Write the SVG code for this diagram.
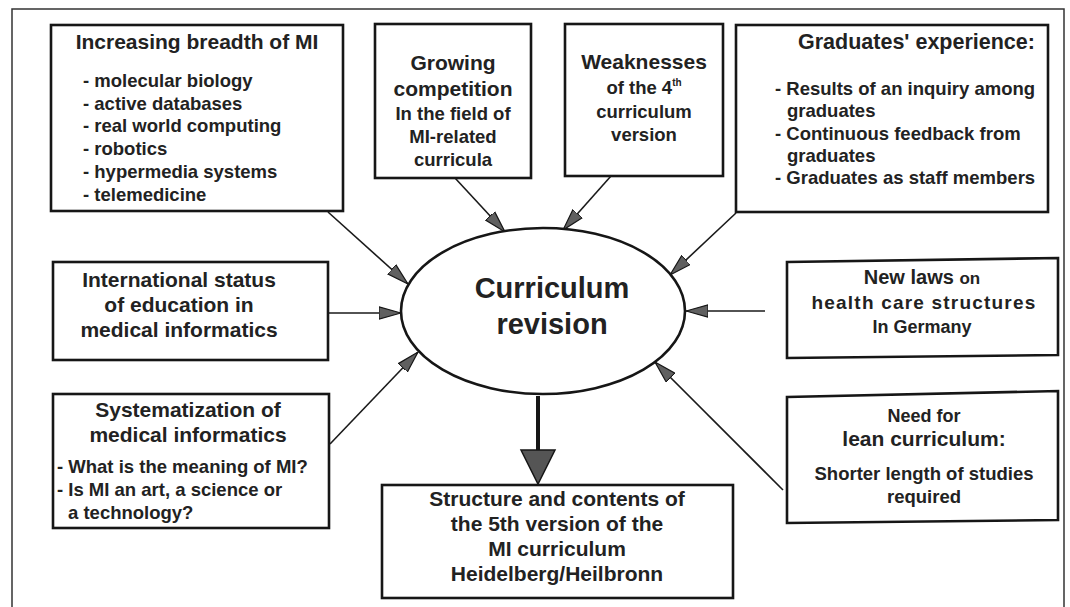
<svg xmlns="http://www.w3.org/2000/svg" width="1070" height="607" viewBox="0 0 1070 607">
<style>
.t{font-family:"Liberation Sans",Arial,Helvetica,sans-serif;font-weight:bold;fill:#222}
.c{text-anchor:middle}
.box{fill:#fff;stroke:#161616;stroke-width:2.6;stroke-linejoin:miter}
.conn{stroke:#1a1a1a;stroke-width:1.6;fill:none;marker-end:url(#ah)}
.frame{fill:none;stroke:#333;stroke-width:1.5}
</style>
<defs>
<marker id="ah" viewBox="0 0 22 14" refX="22" refY="7" markerWidth="22" markerHeight="14" orient="auto" markerUnits="userSpaceOnUse">
<path d="M0,0.8 L22,7 L0,13.2 Z" fill="#606060" stroke="#161616" stroke-width="1.2"/>
</marker>
</defs>
<rect width="1070" height="607" fill="#fff"/>
<path class="frame" d="M12,607 L12,9 L1064,9 L1064,607"/>

<g id="connectors">
<line class="conn" x1="328" y1="212" x2="408" y2="284"/>
<line class="conn" x1="455" y1="178" x2="505" y2="232"/>
<line class="conn" x1="611" y1="176" x2="563" y2="230"/>
<line class="conn" x1="736" y1="213" x2="670" y2="275"/>
<line class="conn" x1="310" y1="313" x2="401" y2="313"/>
<line class="conn" x1="765" y1="311" x2="686" y2="311"/>
<line class="conn" x1="330" y1="444" x2="418" y2="352"/>
<line class="conn" x1="783" y1="490" x2="655" y2="362"/>
<line x1="538" y1="396" x2="538" y2="452" stroke="#161616" stroke-width="4"/>
<path d="M521,450 L555,450 L538,484 Z" fill="#555" stroke="#161616" stroke-width="1.5"/>
</g>

<g id="center">
<ellipse cx="543" cy="311" rx="142" ry="83" fill="#fff" stroke="#161616" stroke-width="2.6"/>
<text class="t c" x="552" y="298" font-size="29">Curriculum</text>
<text class="t c" x="552" y="334" font-size="29">revision</text>
</g>

<g id="breadth">
<rect class="box" x="51" y="25" width="292" height="186"/>
<text class="t c" x="197" y="49" font-size="21">Increasing breadth of MI</text>
<text class="t" x="83" y="87" font-size="18.5">-  molecular biology</text>
<text class="t" x="83" y="109.7" font-size="18.5">-  active databases</text>
<text class="t" x="83" y="132.4" font-size="18.5">-  real world computing</text>
<text class="t" x="83" y="155.1" font-size="18.5">-  robotics</text>
<text class="t" x="83" y="177.8" font-size="18.5">-  hypermedia systems</text>
<text class="t" x="83" y="200.5" font-size="18.5">-  telemedicine</text>
</g>

<g id="competition">
<rect class="box" x="375" y="24" width="156" height="154"/>
<text class="t c" x="453" y="70" font-size="21">Growing</text>
<text class="t c" x="453" y="96" font-size="21">competition</text>
<text class="t c" x="453" y="120" font-size="18.5">In the field of</text>
<text class="t c" x="453" y="143" font-size="18.5">MI-related</text>
<text class="t c" x="453" y="166" font-size="18.5">curricula</text>
</g>

<g id="weaknesses">
<rect class="box" x="565" y="24" width="158" height="152"/>
<text class="t c" x="644" y="69" font-size="21">Weaknesses</text>
<text class="t c" x="644" y="94" font-size="18.5">of the 4<tspan font-size="10" dy="-8">th</tspan></text>
<text class="t c" x="644" y="118" font-size="18.5">curriculum</text>
<text class="t c" x="644" y="141" font-size="18.5">version</text>
</g>

<g id="graduates">
<rect class="box" x="736" y="25" width="312" height="187"/>
<text class="t" x="798" y="49" font-size="21.5">Graduates' experience:</text>
<text class="t" x="775" y="95" font-size="18.5">- Results of an inquiry among</text>
<text class="t" x="787" y="117" font-size="18.5">graduates</text>
<text class="t" x="775" y="140" font-size="18.5">- Continuous feedback from</text>
<text class="t" x="787" y="162" font-size="18.5">graduates</text>
<text class="t" x="775" y="184" font-size="18.5">- Graduates as staff members</text>
</g>

<g id="international">
<rect class="box" x="53" y="262" width="275" height="98"/>
<text class="t c" x="179" y="287" font-size="21">International status</text>
<text class="t c" x="179" y="312" font-size="21">of education in</text>
<text class="t c" x="179" y="337" font-size="21">medical informatics</text>
</g>

<g id="systematization">
<rect class="box" x="53" y="394" width="276" height="134"/>
<text class="t c" x="188" y="417" font-size="21">Systematization of</text>
<text class="t c" x="188" y="442" font-size="21">medical informatics</text>
<text class="t" x="57" y="473" font-size="18.5">- What is the meaning of MI?</text>
<text class="t" x="57" y="496" font-size="18.5">- Is MI an art, a science or</text>
<text class="t" x="68" y="519" font-size="18.5">a  technology?</text>
</g>

<g id="result">
<rect class="box" x="382" y="485" width="351" height="113"/>
<text class="t c" x="557" y="506" font-size="21">Structure and contents of</text>
<text class="t c" x="557" y="531" font-size="21">the 5th version of the</text>
<text class="t c" x="557" y="556" font-size="21">MI curriculum</text>
<text class="t c" x="557" y="581" font-size="21">Heidelberg/Heilbronn</text>
</g>

<g id="laws">
<polygon class="box" points="787,262 1058,258 1058,355 787,358"/>
<text class="t c" x="922" y="284" font-size="20">New laws <tspan font-size="17">on</tspan></text>
<text class="t c" x="924" y="309" font-size="19" letter-spacing="1.2">health care structures</text>
<text class="t c" x="922" y="333" font-size="18">In Germany</text>
</g>

<g id="lean">
<polygon class="box" points="787,397 1058,391 1058,520 787,523"/>
<text class="t c" x="924" y="422" font-size="18">Need for</text>
<text class="t c" x="924" y="446" font-size="21">lean curriculum:</text>
<text class="t c" x="924" y="480" font-size="18.5">Shorter length of studies</text>
<text class="t c" x="924" y="503" font-size="18.5">required</text>
</g>
</svg>
